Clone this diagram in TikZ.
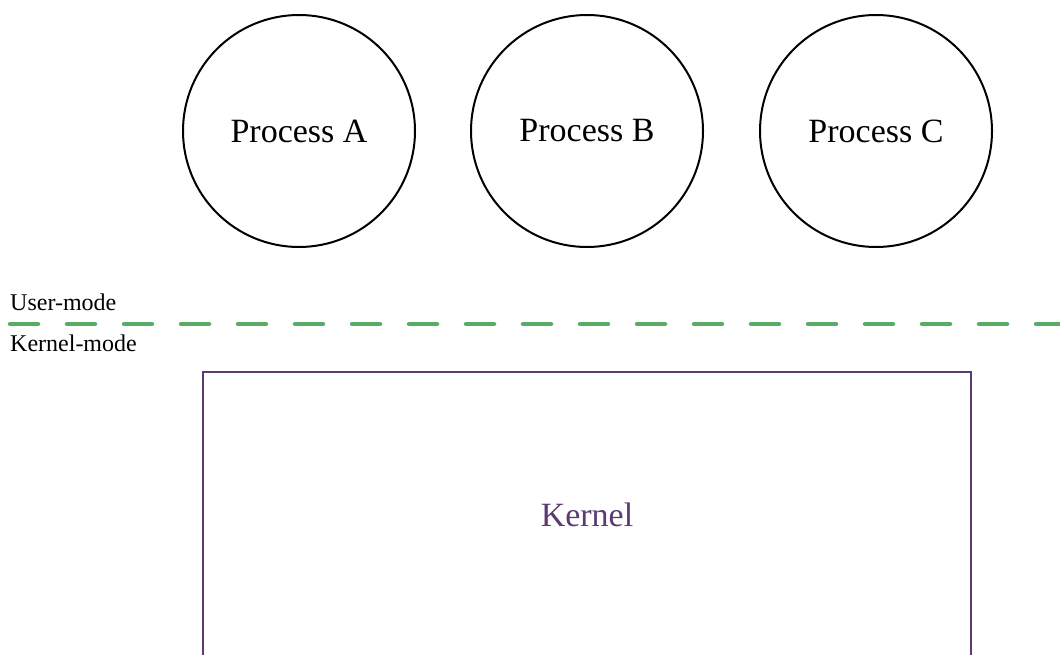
\documentclass[tikz,border=0pt]{standalone}
\usepackage{fontspec}
\setmainfont{Liberation Serif}
\definecolor{modegreen}{HTML}{59AB66}
\definecolor{kernelpurple}{HTML}{5C3B72}
\begin{document}
\begin{tikzpicture}[x=1pt,y=-1pt,
  proc/.style={circle,draw=black,line width=2pt,minimum size=232pt,inner sep=0pt,font=\fontsize{34}{40}\selectfont},
  modelabel/.style={anchor=west,inner sep=0pt,font=\fontsize{24}{28}\selectfont}]
\useasboundingbox (0,0) rectangle (1060,655);
% user-mode processes
\node[proc] (pa) at (299,131) {Process A};
\node[proc] (pb) at (587,131) {Process B};
\node[proc] (pc) at (876,131) {Process C};
% privilege boundary
\coordinate (bl) at (10,324);
\coordinate (br) at (1075,324);
\draw[modegreen,line width=4.5pt,line cap=round,dash pattern=on 28pt off 29pt] (bl) -- (br);
\node[modelabel] (um) at (10,302) {User-mode};
\node[modelabel] (km) at (10,343) {Kernel-mode};
% kernel box, open at the bottom
\draw[kernelpurple,line width=2.5pt] (203,680) -- (203,372) -- (971,372) -- (971,680);
\node[kernelpurple,font=\fontsize{34}{40}\selectfont] (k) at (587,515) {Kernel};
\end{tikzpicture}
\end{document}
